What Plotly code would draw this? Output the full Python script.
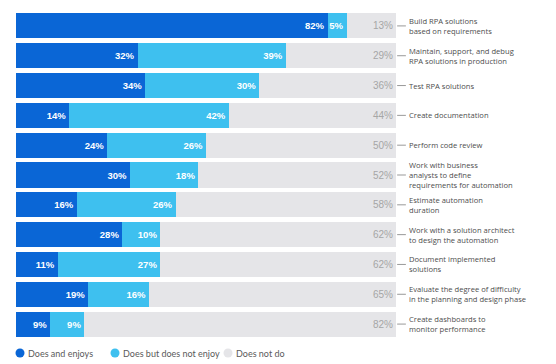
import plotly.graph_objects as go

tasks = [
    "Build RPA solutions<br>based on requirements",
    "Maintain, support, and debug<br>RPA solutions in production",
    "Test RPA solutions",
    "Create documentation",
    "Perform code review",
    "Work with business<br>analysts to define<br>requirements for automation",
    "Estimate automation<br>duration",
    "Work with a solution architect<br>to design the automation",
    "Document implemented<br>solutions",
    "Evaluate the degree of difficulty<br>in the planning and design phase",
    "Create dashboards to<br>monitor performance",
]
does_enjoys = [82, 32, 34, 14, 24, 30, 16, 28, 11, 19, 9]
does_not_enjoy = [5, 39, 30, 42, 26, 18, 26, 10, 27, 16, 9]
does_not_do = [13, 29, 36, 44, 50, 52, 58, 62, 62, 65, 82]
series_names = ["Does and enjoys", "Does but does not enjoy", "Does not do"]

C_DARK = "#0a66d6"
C_LIGHT = "#3ec0ef"
C_GRAY = "#e5e5e8"
colors = [C_DARK, C_LIGHT, C_GRAY]

# figure is placed by the page with an 8px body margin
W, H = 548, 356
L, R, T, B = 8, 160, 3, 25
PW, PH = W - L - R, H - T - B

ids = list(range(len(tasks)))
fig = go.Figure()
for vals, col, tcol, name, bold in [
    (does_enjoys, C_DARK, "white", series_names[0], True),
    (does_not_enjoy, C_LIGHT, "white", series_names[1], True),
    (does_not_do, C_GRAY, "#a6a6a6", series_names[2], False),
]:
    fig.add_trace(go.Bar(
        y=ids, x=vals, orientation="h", marker=dict(color=col, line=dict(width=0)),
        text=[(f"<b>{v}%</b>" if bold else f"{v}%") for v in vals],
        textposition="inside", insidetextanchor="end",
        textfont=dict(color=tcol, size=9.5 if bold else 10, family="Liberation Sans"),
        textangle=0, constraintext="none",
        showlegend=False, hoverinfo="skip", name=name,
    ))

annotations = []
shapes = []
for i, t in zip(ids, tasks):
    annotations.append(dict(
        x=1, xref="paper", y=i, yref="y", text=t, showarrow=False,
        xanchor="left", yanchor="middle", align="left", xshift=12, borderpad=0,
        font=dict(size=7.6, color="#4d4d4d", family="Open Sans"),
    ))
    shapes.append(dict(
        type="line", xref="paper", yref="y", x0=1.003, x1=1.026, y0=i, y1=i,
        line=dict(color="#999999", width=1),
    ))

# custom legend with round markers
leg_circle_px = [12, 107, 220]
leg_y = -(345 - (T + PH)) / PH
for name, col, cx in zip(series_names, colors, leg_circle_px):
    px = (cx - L) / PW
    shapes.append(dict(
        type="circle", xref="paper", yref="paper", xsizemode="pixel", ysizemode="pixel",
        xanchor=px, yanchor=leg_y, x0=-4.5, x1=4.5, y0=-4.5, y1=4.5,
        fillcolor=col, line=dict(width=0),
    ))
    annotations.append(dict(
        x=px, xref="paper", y=leg_y, yref="paper", text=name, showarrow=False,
        xanchor="left", yanchor="middle", xshift=6,
        font=dict(size=9, color="#5a5a5a", family="Lato"),
    ))

fig.update_layout(
    width=W, height=H,
    barmode="stack", bargap=0.16,
    margin=dict(l=L, r=R, t=T, b=B, autoexpand=False),
    paper_bgcolor="white", plot_bgcolor="white",
    xaxis=dict(range=[0, 100], visible=False, fixedrange=True),
    yaxis=dict(autorange="reversed", visible=False, fixedrange=True),
    uniformtext=dict(mode=False),
    annotations=annotations, shapes=shapes,
    showlegend=False,
    font=dict(family="Lato"),
)
fig.write_html("out.html")
